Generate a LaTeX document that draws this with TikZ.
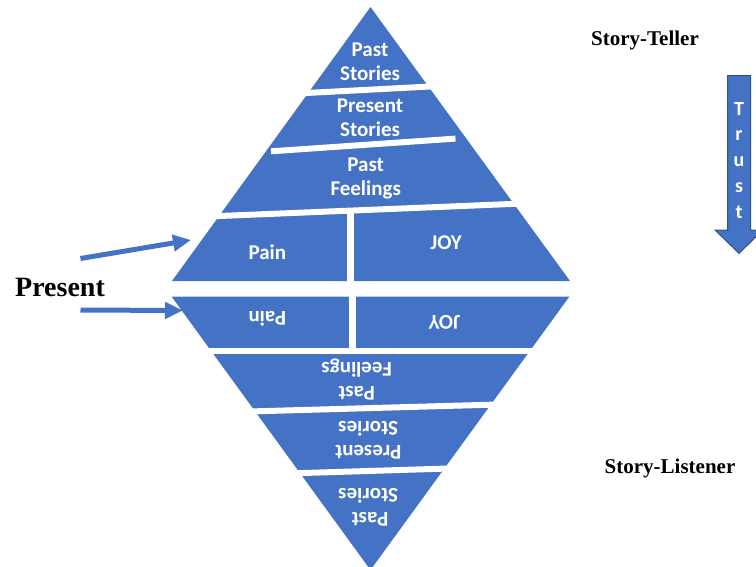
\documentclass[tikz,border=0pt]{standalone}
\usepackage{fontspec}
\setmainfont{Liberation Serif}
\newfontfamily\calib{Carlito}
\usetikzlibrary{arrows.meta}
\definecolor{pblue}{HTML}{4472C4}
\definecolor{pedge}{HTML}{2F528F}
\begin{document}
\begin{tikzpicture}[x=1pt,y=-1pt,
  band/.style={fill=pblue},
  gap/.style={draw=white,line width=6pt,line cap=butt},
  lbl/.style={text=white,font=\calib\bfseries\fontsize{21}{24}\selectfont,inner sep=0pt,anchor=base},
  lblr/.style={lbl,rotate=180},
  tr/.style={text=white,font=\calib\bfseries\fontsize{20}{24}\selectfont,inner sep=0pt,anchor=base},
  head/.style={font=\bfseries\fontsize{21}{24}\selectfont,inner sep=0pt,anchor=base},
  pointer/.style={draw=pblue,line width=5pt,-{Triangle[length=18pt,width=16pt]}}]
\useasboundingbox (0,0) rectangle (756,566);
\begin{scope}
\clip (0,0) rectangle (756,566);
% upper triangle (story-teller)
\path[band] (172,281) -- (570,281) -- (370.5,7) -- cycle;
\draw[gap] (295,93.6) -- (445,85.7);
\draw[gap] (271,151.3) -- (455.5,138.6);
\draw[gap] (200,216.8) -- (535,203.0);
\draw[gap,line width=6.5pt] (350.7,212) -- (350.7,285);
% lower triangle (story-listener)
\path[band] (171.7,296.7) -- (569.3,296.7) -- (370.5,570) -- cycle;
\draw[gap,line width=7pt] (352,290) -- (352,352);
\draw[gap,line width=6.3pt] (195,350.8) -- (545,350.8);
\draw[gap] (240,411.75) -- (505,404.3);
\draw[gap] (290,473.4) -- (455,468.3);
% trust arrow
\path[fill=pblue,draw=pedge,line width=1pt] (727.5,75.7) -- (750.5,75.7) -- (750.5,230) -- (763,230) -- (739,253.3) -- (715,230) -- (727.5,230) -- cycle;
\end{scope}
% upper labels
\node[lbl] (u1a) at (370,56) {Past};
\node[lbl] (u1b) at (370,80) {Stories};
\node[lbl] (u2a) at (370,112.7) {Present};
\node[lbl] (u2b) at (370,136.7) {Stories};
\node[lbl] (u3a) at (365.7,171) {Past};
\node[lbl] (u3b) at (365.7,195.5) {Feelings};
\node[lbl] (upain) at (267.3,259.3) {Pain};
\node[lbl] (ujoy) at (446,249.3) {JOY};
% lower labels (upside down)
\node[lblr] (lpain) at (267.3,311) {Pain};
\node[lblr] (ljoy) at (444.3,315.6) {JOY};
\node[lblr] (l3b) at (356.7,362.5) {Feelings};
\node[lblr] (l3a) at (356.7,386.5) {Past};
\node[lblr] (l2b) at (368.3,421) {Stories};
\node[lblr] (l2a) at (368.3,445) {Present};
\node[lblr] (l1b) at (368.3,488.3) {Stories};
\node[lblr] (l1a) at (370,512.5) {Past};
% trust letters
\node[tr] (t1) at (739,115) {T};
\node[tr] (t2) at (739,140.8) {r};
\node[tr] (t3) at (739,166.6) {u};
\node[tr] (t4) at (739,192.4) {s};
\node[tr] (t5) at (739,218.2) {t};
% side labels
\node[head] (teller) at (645,45) {Story-Teller};
\node[head] (listener) at (670,473.3) {Story-Listener};
\node[head,font=\bfseries\fontsize{28}{32}\selectfont] (present) at (60,296.5) {Present};
% pointers
\coordinate (p1s) at (80.5,258.5);
\coordinate (p1e) at (191,240);
\coordinate (p2s) at (80.5,310);
\coordinate (p2e) at (183,310.5);
\draw[pointer] (p1s) -- (p1e);
\draw[pointer] (p2s) -- (p2e);
\end{tikzpicture}
\end{document}
